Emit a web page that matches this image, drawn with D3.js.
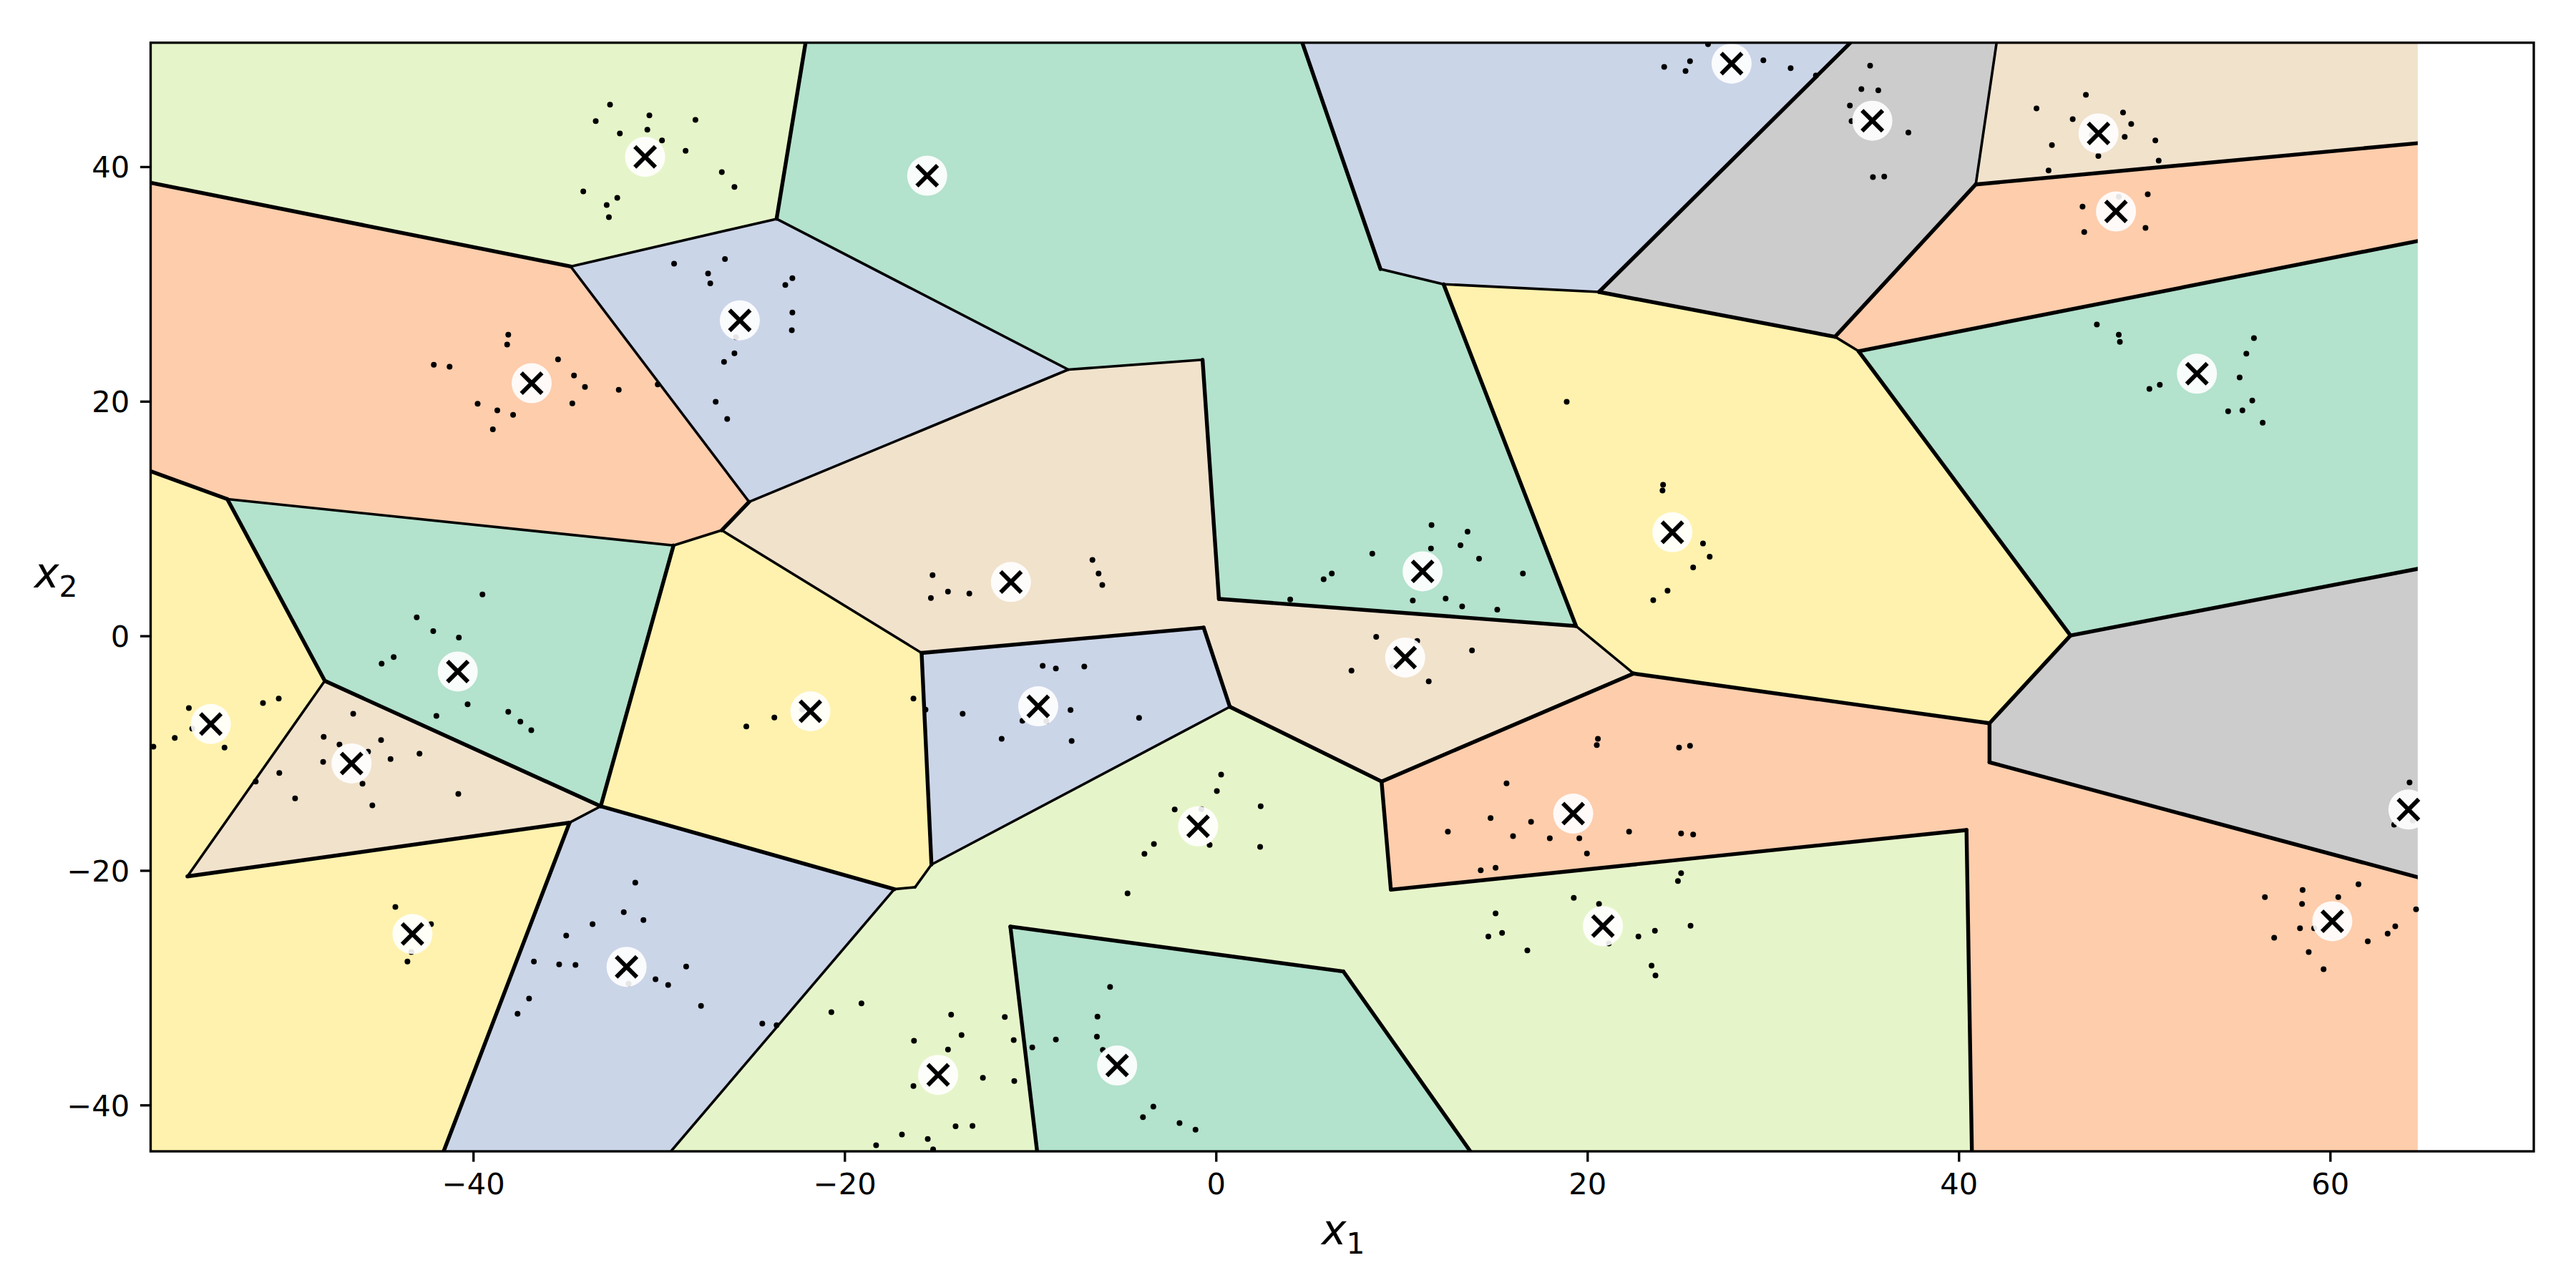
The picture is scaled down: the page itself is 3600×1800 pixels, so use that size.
<!DOCTYPE html>
<html><head><meta charset="utf-8">
<script src="https://cdn.jsdelivr.net/npm/d3@7/dist/d3.min.js"></script>
<style>html,body{margin:0;padding:0;background:#fff}svg{display:block}text{font-family:"DejaVu Sans",sans-serif;fill:#000}</style>
</head><body><svg id="c" width="3600" height="1800"></svg>
<script>
const xLimits=[-57.37,70.97], yLimits=[-43.95,50.57];
const xTickValues=[-40,-20,0,20,40,60], yTickValues=[-40,-20,0,20,40];
const T=50.57,B=-43.95,L=-57.37,R=64.72;
const vertices={NW:[L,T],NE:[R,T],SW:[L,B],SE:[R,B],
A:[-22.1,T],B:[-23.66,35.55],C:[-34.75,31.49],D:[L,38.63],E:[-25.14,11.42],F:[-26.61,9.0],G:[-29.21,7.71],H:[-53.24,11.66],I:[L,14.04],
J:[-7.95,22.7],K:[-0.72,23.54],M:[0.16,3.15],N:[19.39,0.84],O:[22.49,-3.21],P:[12.26,29.98],Q:[8.86,31.28],Rr:[4.65,T],S:[20.63,29.32],U:[34.17,T],
V:[33.34,25.5],W:[40.92,38.49],X:[42.04,T],Y:[R,42.0],Z:[34.61,24.27],Z2:[R,33.66],AA:[46.02,0.03],AB:[R,5.71],AC:[41.66,-7.45],AD:[41.66,-10.78],AE:[R,-20.58],
AF:[40.71,B],AG:[40.42,-16.56],AH:[9.42,-21.64],AI:[8.92,-12.42],AJ:[0.75,-6.05],AK:[-0.66,0.70],AL:[-15.85,-1.46],AM:[-15.32,-19.5],AN:[-16.2,-21.43],AO:[-17.32,-21.6],
AP:[-33.13,-14.53],AQ:[-34.81,-15.93],AR:[-55.39,-20.51],AS:[-47.99,-3.84],AT:[-41.59,B],AU:[-29.35,B],AV:[-11.07,-24.79],AW:[6.86,-28.61],AX:[13.70,B],AY:[-9.63,B]};
const regionColors=["#e6f5c9","#fdcdac","#cbd5e8","#b3e2cd","#cbd5e8","#cccccc","#f1e2cc","#fdcdac","#b3e2cd","#cccccc","#fff2ae","#f1e2cc","#cbd5e8","#fff2ae","#b3e2cd","#fff2ae","#f1e2cc","#cbd5e8","#e6f5c9","#b3e2cd","#fdcdac"];
const regionVertices=["NW A B C D","D C E F G H I","C B J E","A Rr Q P N M K J B","Rr U S P Q","U X W V S","X NE Y W","W Y Z2 Z V","Z Z2 AB AA","AA AB AE AD AC","P S V Z AA AC O N",
"J K M N O AI AJ AK AL F E","AL AK AJ AM","F AL AM AN AO AP G","H G AP AS","I H AS AR AQ AT SW","AS AP AQ AR","AQ AP AO AU AT","AO AN AM AJ AI AH AG AF AX AW AV AY AU","AV AW AX AY","AI O AC AD AE SE AF AG AH"];
const thinEdges=["C-E","B-J","P-Q","W-X","V-Z","O-N","AL-F","AM-AJ","AM-AN","AN-AO","AO-AU","AP-AQ","AR-AS","B-C","F-G","G-H","J-E","J-K","P-S"];
const thickEdges=["A-B","C-D","E-F","H-I","K-M","M-N","N-P","Q-Rr","S-U","S-V","V-W","W-Y","Z-Z2","Z-AA","AA-AB","AA-AC","AC-AD","AD-AE","AC-O","O-AI","AI-AJ","AI-AH","AH-AG","AG-AF","AJ-AK","AK-AL","AL-AM","AO-AP","AP-G","AP-AS","AQ-AR","AQ-AT","AS-H","AV-AW","AW-AX","AV-AY"];
const centroidX=[-30.74,-25.64,-36.85,-15.55,-11.04,11.13,24.58,27.77,35.35,47.53,48.47,52.83,-54.13,-40.83,-46.55,-21.84,-43.27,-31.74,-9.57,10.19,-0.96,19.24,20.84,-14.96,-5.32,64.22,60.12];
const centroidY=[40.84,26.9,21.54,39.23,4.59,5.5,8.83,48.79,43.92,42.84,36.18,22.35,-7.52,-3.04,-10.88,-6.43,-25.42,-28.22,-6.01,-1.85,-16.24,-15.16,-24.75,-37.43,-36.63,-14.81,-24.33];
const pointX=[-32.63,-30.51,-33.40,-28.03,-32.10,-30.62,-29.83,-28.56,-26.61,-25.93,-34.07,-32.24,-32.81,-32.69,
-29.18,-26.44,-27.35,-27.23,-22.81,-23.19,-22.81,-22.84,-25.85,-25.93,-26.49,-26.94,-26.32,-30.06,
-38.11,-38.17,-42.12,-41.27,-35.43,-34.57,-33.98,-32.16,-39.76,-38.70,-37.85,-38.94,-34.66,
-39.50,-43.04,-42.15,-40.77,-44.93,-44.28,-40.30,-41.98,-38.11,-37.46,-36.87,
-55.31,-51.32,-50.47,-55.13,-56.07,-57.22,-53.39,
-46.46,-48.05,-47.20,-44.96,-45.66,-44.45,-42.89,-48.08,-50.44,-51.71,-49.59,-45.96,-45.43,-40.80,
-22.28,-23.78,-25.29,-44.19,-42.27,-43.33,-43.54,
-31.27,-31.89,-30.83,-33.57,-34.99,-36.73,-35.37,-34.49,-28.53,-30.18,-29.50,-31.63,-27.73,-36.99,-37.61,-24.43,-23.66,-20.71,-19.09,
24.14,25.53,25.29,26.50,29.48,30.95,32.31,
-15.26,-15.35,-14.43,-13.28,-6.65,-6.32,-6.12,
11.61,13.55,13.17,11.58,14.17,8.42,6.24,5.80,16.53,4.00,10.60,12.37,13.26,15.15,
18.89,24.08,24.05,26.23,26.59,25.70,24.32,23.55,
8.63,10.84,13.79,7.30,11.46,9.51,
-9.33,-8.62,-7.09,-16.29,-15.64,-13.64,-7.83,-10.42,-9.13,-4.14,-11.54,-7.77,
0.28,0.05,-2.22,-0.78,2.41,-0.34,2.38,-3.34,-3.85,-4.76,
20.57,20.51,24.94,25.53,15.65,14.79,16.97,12.49,16.00,17.98,19.57,22.25,25.05,25.70,19.98,14.26,15.06,
25.05,24.88,19.27,20.63,15.06,14.67,15.41,16.77,21.16,22.75,23.64,25.56,23.46,23.67,
-5.70,-6.38,-6.41,-8.62,-9.89,-6.09,-3.37,-3.93,-1.96,-1.10,
-14.26,-11.37,-13.70,-16.26,-10.89,-14.43,-12.55,-10.86,-16.29,-14.02,-13.11,-16.91,-15.52,-18.30,-15.23,
35.23,34.76,35.67,34.14,34.23,37.29,35.38,35.99,
46.85,44.19,48.85,46.14,49.29,48.94,47.17,50.59,45.02,47.52,50.77,44.84,
50.18,48.62,46.67,46.76,50.06,
47.44,48.62,48.68,55.90,55.49,55.13,50.83,50.27,55.81,54.51,55.28,56.37,
64.28,63.45,64.45,
61.53,58.52,56.49,60.44,58.49,64.63,63.51,63.10,58.38,59.14,56.99,62.03,58.85,59.65];
const pointY=[45.29,44.38,43.89,43.99,42.84,43.15,42.24,41.36,39.54,38.28,37.90,37.34,36.74,35.69,
31.73,32.12,30.89,30.05,30.50,29.91,27.56,26.06,25.46,24.09,23.36,19.96,18.49,21.43,
25.67,24.83,23.11,22.94,23.57,22.20,21.22,20.98,19.79,19.23,18.84,17.61,19.82,
3.53,1.57,0.41,-0.15,-2.37,-1.81,-5.84,-6.82,-6.47,-7.31,-8.05,
-6.15,-5.73,-5.35,-7.91,-8.71,-9.45,-9.52,
-6.65,-8.61,-9.27,-8.89,-9.87,-10.50,-10.04,-10.74,-11.69,-12.43,-13.86,-12.60,-14.46,-13.48,
-6.29,-6.96,-7.73,-23.11,-24.58,-26.96,-27.77,
-21.04,-23.56,-24.23,-24.58,-25.56,-27.77,-28.01,-28.05,-28.19,-29.27,-29.77,-29.66,-31.55,-30.92,-32.22,-33.06,-33.20,-32.08,-31.34,
48.51,49.00,48.16,50.44,49.07,48.40,47.77,
5.18,3.22,3.78,3.60,6.47,5.32,4.34,
9.45,8.89,7.73,7.45,6.58,7.00,5.32,4.83,5.32,3.11,3.01,3.18,2.51,2.24,
19.96,12.88,12.39,7.87,6.75,5.84,3.85,3.04,
-0.08,-0.43,-1.25,-2.97,-3.88,-2.62,
-2.55,-2.79,-2.62,-5.35,-6.29,-6.65,-6.33,-7.24,-7.28,-7.00,-8.78,-8.96,
-11.83,-13.23,-14.81,-14.77,-14.53,-17.82,-17.99,-17.75,-18.59,-21.95,
-8.78,-9.31,-9.52,-9.38,-12.57,-15.54,-15.86,-16.70,-17.08,-17.26,-17.26,-16.70,-16.84,-16.94,-18.56,-19.99,-19.78,
-20.24,-20.90,-22.34,-22.86,-23.67,-25.63,-25.32,-26.82,-26.23,-25.63,-25.14,-24.72,-28.12,-28.96,
-29.94,-32.46,-34.18,-34.42,-35.09,-35.30,-40.13,-41.04,-41.54,-42.10,
-32.29,-32.50,-34.04,-34.53,-34.46,-35.27,-37.68,-37.96,-38.38,-41.82,-41.78,-42.52,-42.90,-43.43,-43.78,
48.62,46.62,46.51,45.22,43.89,42.91,39.12,39.16,
46.13,44.97,44.62,44.06,43.64,42.55,42.73,42.24,41.85,40.91,40.52,39.68,
37.65,37.44,36.60,34.43,34.78,
26.55,25.67,25.07,25.39,24.06,22.03,21.40,21.05,20.07,19.15,19.23,18.17,
-12.50,-16.10,-15.75,
-21.18,-21.67,-22.27,-22.27,-22.86,-23.32,-24.76,-25.39,-24.93,-24.93,-25.74,-26.05,-26.96,-28.43];

const ptW=3.333;
const x=d3.scaleLinear().domain(xLimits).range([210.5,3541]);
const y=d3.scaleLinear().domain(yLimits).range([1609,59.7]);
const svg=d3.select("#c");
const defs=svg.append("defs");
defs.append("clipPath").attr("id","plot").append("rect")
  .attr("x",x(xLimits[0])).attr("y",y(yLimits[1])).attr("width",x(xLimits[1])-x(xLimits[0])).attr("height",y(yLimits[0])-y(yLimits[1]));
defs.append("clipPath").attr("id","field").append("rect")
  .attr("x",x(xLimits[0])).attr("y",y(yLimits[1])).attr("width",x(R)-x(xLimits[0])).attr("height",y(yLimits[0])-y(yLimits[1]));
const plot=svg.append("g").attr("clip-path","url(#plot)");
const field=plot.append("g").attr("clip-path","url(#field)");
const lineGen=d3.line().x(d=>x(d[0])).y(d=>y(d[1]));
field.append("g").selectAll("path").data(regionVertices).join("path")
  .attr("d",d=>lineGen(d.split(" ").map(k=>vertices[k]))+"Z")
  .attr("fill",(d,i)=>regionColors[i]).attr("stroke",(d,i)=>regionColors[i]).attr("stroke-width",1);
function drawEdges(list,w){
  field.append("g").selectAll("path").data(list).join("path")
    .attr("d",d=>lineGen(d.split("-").map(k=>vertices[k])))
    .attr("fill","none").attr("stroke","#000").attr("stroke-width",w).attr("stroke-linecap","round").attr("stroke-linejoin","round");
}
drawEdges(thinEdges,3.6); drawEdges(thickEdges,5.4);
plot.append("g").selectAll("circle").data(pointX).join("circle")
  .attr("cx",d=>x(d)).attr("cy",(d,i)=>y(pointY[i])).attr("r",4).attr("fill","#000");
plot.append("g").selectAll("circle").data(centroidX).join("circle")
  .attr("cx",d=>x(d)).attr("cy",(d,i)=>y(centroidY[i])).attr("r",28).attr("fill","#fff").attr("fill-opacity",0.9);
const arm=14.4;
plot.append("g").selectAll("path").data(centroidX).join("path")
  .attr("d",(d,i)=>{const a=x(d),b=y(centroidY[i]);return `M${a-arm},${b-arm}L${a+arm},${b+arm}M${a-arm},${b+arm}L${a+arm},${b-arm}`;})
  .attr("fill","none").attr("stroke","#000").attr("stroke-width",6);

const gx=svg.append("g").attr("transform",`translate(0,${y(yLimits[0])})`)
  .call(d3.axisBottom(x).tickValues(xTickValues).tickSize(14.6).tickPadding(14.6));
const gy=svg.append("g").attr("transform",`translate(${x(xLimits[0])},0)`)
  .call(d3.axisLeft(y).tickValues(yTickValues).tickSize(14.6).tickPadding(14.6));
[gx,gy].forEach(g=>{g.select(".domain").remove();g.selectAll("line").attr("stroke","#000").attr("stroke-width",ptW);
  g.selectAll("text").attr("font-size",41.67).attr("font-family",'"DejaVu Sans"').attr("fill","#000");});
gx.selectAll("text").each(function(){d3.select(this).attr("y",60).attr("dy",0);});
gy.selectAll("text").attr("dy","0.36em");
svg.append("rect").attr("x",x(xLimits[0])).attr("y",y(yLimits[1])).attr("width",x(xLimits[1])-x(xLimits[0])).attr("height",y(yLimits[0])-y(yLimits[1]))
  .attr("fill","none").attr("stroke","#000").attr("stroke-width",ptW);
function mathLabel(xp,yp,sub){
  const t=svg.append("text").attr("x",xp).attr("y",yp).attr("font-size",58.3);
  t.append("tspan").attr("font-style","italic").text("x");
  t.append("tspan").attr("font-size",40.8).attr("dy",13).text(sub);
}
mathLabel(1847,1739,"1");
mathLabel(48,821,"2");
</script></body></html>
